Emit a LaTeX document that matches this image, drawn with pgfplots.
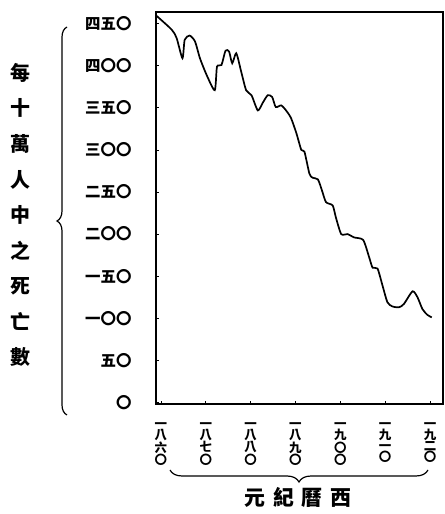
\documentclass[border=0pt]{standalone}
\usepackage{fontspec}
\usepackage{pgfplots}
\pgfplotsset{compat=1.18}
\usetikzlibrary{decorations.pathreplacing}
\newfontfamily\cjk{Noto Sans CJK TC}

\begin{document}
\begin{tikzpicture}
\useasboundingbox (0bp,0bp) rectangle (445bp,514bp);
\begin{axis}[
  name=ax,
  at={(156bp,110bp)}, anchor=south west,
  scale only axis, width=287bp, height=392bp,
  xmin=1858.9, xmax=1922.9, ymin=-2, ymax=464,
  clip=false,
  axis line style={draw=black, line width=1.3bp},
  tick pos=left, tick align=inside, major tick length=3bp,
  tick style={black, line width=0.8bp},
  xtick={1860,1870,...,1920},
  xticklabels={{一\\八\\六\\〇},{一\\八\\七\\〇},{一\\八\\八\\〇},{一\\八\\九\\〇},{一\\九\\〇\\〇},{一\\九\\一\\〇},{一\\九\\二\\〇}},
  xticklabel style={align=center, font=\cjk\bfseries\fontsize{12.5}{11}\selectfont, anchor=north, yshift=-15bp},
  ytick={0,50,...,450},
  yticklabels={〇,五〇,一〇〇,一五〇,二〇〇,二五〇,三〇〇,三五〇,四〇〇,四五〇},
  yticklabel style={font=\cjk\bfseries\fontsize{15.5}{15.5}\selectfont, anchor=east, xshift=-21bp},
]
% frame of the plot area
\addplot[black, line width=1.3bp, line join=round, no marks] coordinates {
(1858.9,-2) (1922.9,-2) (1922.9,464) (1858.9,464) (1858.9,-2)
};
% deaths per 100,000
\addplot[black, line width=1.7bp, smooth, tension=0.4] coordinates {
(1858.9,460) (1862.4,443) (1863.5,433) (1864.8,409) (1865.3,431)
(1866.4,436) (1867.6,429) (1868.7,409) (1870.2,389) (1872.0,371)
(1872.5,399) (1873.5,401) (1874.4,418) (1875.2,417) (1875.9,403)
(1876.8,415) (1877.9,393) (1879.0,371) (1880.2,365) (1881.6,347)
(1882.7,356) (1883.8,365) (1884.8,363) (1885.6,351) (1886.8,353)
(1887.9,347) (1889.0,338) (1890.2,320) (1891.3,300) (1892.0,298)
(1893.1,272) (1893.8,267) (1895.0,265) (1895.9,252) (1896.8,238)
(1898.3,234) (1899.0,220) (1900.2,200) (1901.6,200) (1903.1,196)
(1905.1,193) (1906.4,173) (1907.2,160) (1908.3,159) (1909.4,139)
(1910.5,119) (1911.6,114) (1913.1,113) (1914.2,117) (1916.1,132)
(1917.2,125) (1918.3,111) (1919.4,104) (1920.4,101)
};
\end{axis}
% y title and braces
\node[font=\cjk\bfseries\fontsize{20}{35.7}\selectfont, align=center] at (20bp,299bp)
  {每\\十\\萬\\人\\中\\之\\死\\亡\\數};
\draw[line width=1.2bp, decorate, decoration={brace, amplitude=10bp}] (67bp,99bp) -- (67bp,487bp);
\draw[line width=1.2bp, decorate, decoration={brace, amplitude=12bp}] (428bp,44bp) -- (170bp,44bp);
\node[font=\cjk\bfseries\fontsize{21}{21}\selectfont] at (298bp,17bp)
  {元\hspace{8bp}紀\hspace{8bp}曆\hspace{8bp}西};
\end{tikzpicture}
\end{document}
